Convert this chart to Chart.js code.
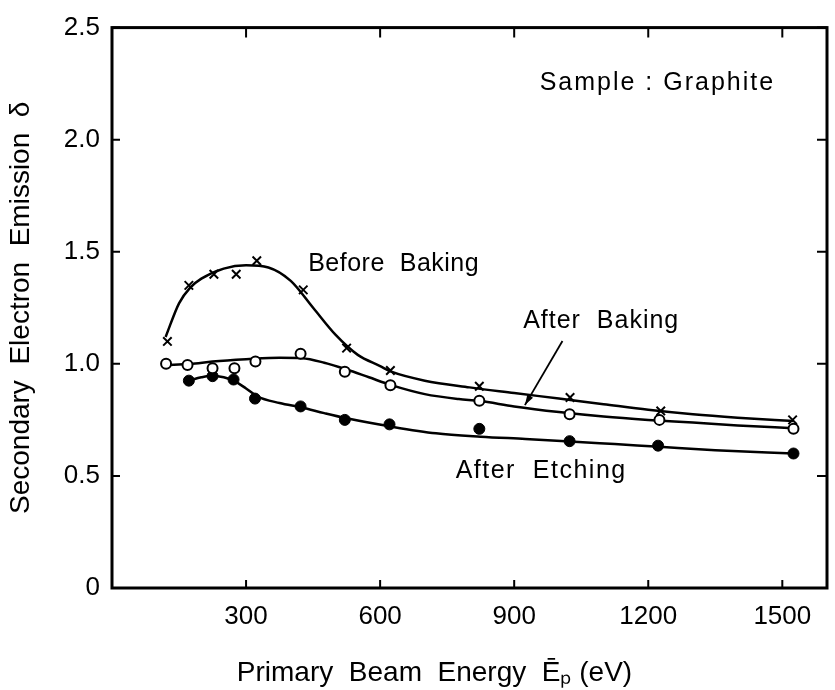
<!DOCTYPE html>
<html><head><meta charset="utf-8">
<script src="https://cdn.jsdelivr.net/npm/chart.js@4.4.0/dist/chart.umd.min.js"></script>
<style>html,body{margin:0;padding:0;background:#fff}</style>
</head><body>
<canvas id="c" width="835" height="690"></canvas>
<script>
// ---- data ----
const xTickValues = [300, 600, 900, 1200, 1500];
const xTickLabels = ['300', '600', '900', '1200', '1500'];
const yTickValues = [0, 0.5, 1.0, 1.5, 2.0, 2.5];
const yTickLabels = ['0', '0.5', '1.0', '1.5', '2.0', '2.5'];

// measured points
const beforeE = [124, 172, 228, 278, 324, 428, 525, 623, 822, 1025, 1228, 1523];
const beforeD = [1.10, 1.35, 1.40, 1.40, 1.46, 1.33, 1.07, 0.97, 0.90, 0.85, 0.79, 0.75];
const bakedE  = [121, 169, 225, 274, 321, 422, 521, 623, 822, 1024, 1225, 1525];
const bakedD  = [1.00, 0.995, 0.98, 0.98, 1.01, 1.045, 0.965, 0.905, 0.835, 0.775, 0.75, 0.71];
const etchE   = [172, 225, 272, 320, 422, 521, 621, 822, 1024, 1222, 1525];
const etchD   = [0.925, 0.945, 0.93, 0.845, 0.81, 0.75, 0.73, 0.71, 0.655, 0.635, 0.60];

// hand-drawn fitted curves
const beforeFitE = [120, 150, 175, 200, 250, 300, 350, 400, 450, 500, 550, 600, 625, 700, 800, 900, 1000, 1100, 1200, 1300, 1400, 1525];
const beforeFitD = [1.12, 1.27, 1.34, 1.38, 1.425, 1.44, 1.43, 1.37, 1.25, 1.13, 1.04, 0.99, 0.965, 0.925, 0.895, 0.87, 0.845, 0.82, 0.795, 0.775, 0.76, 0.745];
const bakedFitE  = [120, 175, 225, 300, 375, 425, 475, 525, 575, 625, 700, 776, 822, 900, 1000, 1100, 1200, 1300, 1400, 1525];
const bakedFitD  = [0.995, 1.0, 1.01, 1.02, 1.027, 1.025, 1.005, 0.975, 0.94, 0.905, 0.865, 0.843, 0.835, 0.81, 0.785, 0.765, 0.75, 0.738, 0.725, 0.713];
const etchFitE   = [172, 200, 225, 250, 275, 300, 325, 375, 425, 475, 525, 625, 725, 825, 925, 1025, 1125, 1225, 1350, 1525];
const etchFitD   = [0.925, 0.94, 0.947, 0.94, 0.922, 0.89, 0.855, 0.825, 0.805, 0.78, 0.757, 0.72, 0.69, 0.675, 0.665, 0.654, 0.642, 0.63, 0.615, 0.60];

const pts = (xs, ys) => xs.map((x, i) => ({x: x, y: ys[i]}));

const FONT = '"Liberation Sans", Arial, sans-serif';
const INK = '#000';

const decor = {
  id: 'decor',
  afterDatasetsDraw(chart) {
    const {ctx, chartArea: a, scales: {x, y}} = chart;
    ctx.save();
    ctx.strokeStyle = INK; ctx.fillStyle = INK;
    // frame
    ctx.lineWidth = 3;
    ctx.strokeRect(a.left, a.top, a.right - a.left, a.bottom - a.top);
    // inward ticks
    ctx.lineWidth = 2;
    ctx.beginPath();
    xTickValues.forEach(v => {
      const px = x.getPixelForValue(v);
      ctx.moveTo(px, a.bottom); ctx.lineTo(px, a.bottom - 8);
      ctx.moveTo(px, a.top); ctx.lineTo(px, a.top + 10);
    });
    yTickValues.forEach(v => {
      const py = y.getPixelForValue(v);
      ctx.moveTo(a.left, py); ctx.lineTo(a.left + 8, py);
      ctx.moveTo(a.right, py); ctx.lineTo(a.right - 10, py);
    });
    ctx.stroke();
    // annotations
    ctx.font = '25px ' + FONT;
    ctx.textBaseline = 'middle';
    ctx.textAlign = 'left';
    const put = (t, ev, d, sp) => {
      if ('letterSpacing' in ctx) ctx.letterSpacing = sp + 'px';
      ctx.fillText(t, x.getPixelForValue(ev), y.getPixelForValue(d));
    };
    put('Sample : Graphite', 957, 2.253, 2);
    put('Before  Baking', 439, 1.446, 0.5);
    put('After  Baking', 920, 1.19, 1);
    put('After  Etching', 769, 0.52, 1.5);
    if ('letterSpacing' in ctx) ctx.letterSpacing = '0px';
    // arrow
    const x0 = x.getPixelForValue(1008), y0 = y.getPixelForValue(1.102);
    const x1 = x.getPixelForValue(924),  y1 = y.getPixelForValue(0.816);
    ctx.lineWidth = 1.8;
    ctx.beginPath(); ctx.moveTo(x0, y0); ctx.lineTo(x1, y1); ctx.stroke();
    const ang = Math.atan2(y1 - y0, x1 - x0);
    ctx.beginPath();
    ctx.moveTo(x1, y1);
    ctx.lineTo(x1 - 11 * Math.cos(ang - 0.3), y1 - 11 * Math.sin(ang - 0.3));
    ctx.lineTo(x1 - 11 * Math.cos(ang + 0.3), y1 - 11 * Math.sin(ang + 0.3));
    ctx.closePath(); ctx.fill();
    ctx.restore();
  }
};

const lineDs = (label, data) => ({
  type: 'line', label, data, borderColor: INK, borderWidth: 2.5,
  pointRadius: 0, fill: false, cubicInterpolationMode: 'monotone', order: 2
});

new Chart(document.getElementById('c'), {
  type: 'scatter',
  data: {
    datasets: [
      lineDs('Before Baking fit', pts(beforeFitE, beforeFitD)),
      lineDs('After Baking fit', pts(bakedFitE, bakedFitD)),
      lineDs('After Etching fit', pts(etchFitE, etchFitD)),
      { label: 'Before Baking', data: pts(beforeE, beforeD), pointStyle: 'crossRot',
        pointRadius: 6, borderColor: INK, borderWidth: 2, backgroundColor: INK, order: 1 },
      { label: 'After Baking', data: pts(bakedE, bakedD), pointStyle: 'circle',
        pointRadius: 5, borderColor: INK, borderWidth: 2, backgroundColor: '#fff', order: 1 },
      { label: 'After Etching', data: pts(etchE, etchD), pointStyle: 'circle',
        pointRadius: 5.5, borderColor: INK, borderWidth: 1, backgroundColor: INK, order: 1 }
    ]
  },
  options: {
    responsive: false, animation: false,
    layout: { padding: { top: 21, right: 3, left: 0, bottom: 0 } },
    plugins: { legend: { display: false }, tooltip: { enabled: false } },
    scales: {
      x: {
        type: 'linear', min: 0, max: 1600,
        afterBuildTicks: s => { s.ticks = xTickValues.map(v => ({value: v})); },
        afterFit: s => { s.height = 102; },
        grid: { display: false, drawTicks: false },
        border: { display: false },
        ticks: { color: INK, padding: 13, font: { family: FONT, size: 26 }, maxRotation: 0,
                 callback: (v) => xTickLabels[xTickValues.indexOf(v)] },
        title: { display: true,
                 text: 'Primary  Beam  Energy  Ēₚ (eV)\u00A0\u00A0\u00A0\u00A0\u00A0\u00A0\u00A0\u00A0\u00A0',
                 color: INK, font: { family: FONT, size: 28 }, padding: { top: 14, bottom: 0 } }
      },
      y: {
        type: 'linear', min: 0, max: 2.5,
        afterBuildTicks: s => { s.ticks = yTickValues.map(v => ({value: v})); },
        afterFit: s => { s.width = 112; },
        grid: { display: false, drawTicks: false },
        border: { display: false },
        ticks: { color: INK, padding: 12, font: { family: FONT, size: 26 },
                 callback: (v) => yTickLabels[yTickValues.indexOf(v)] },
        title: { display: true, text: 'Secondary  Electron  Emission  δ', color: INK,
                 font: { family: FONT, size: 28 }, padding: { top: 4, bottom: 0 } }
      }
    }
  },
  plugins: [decor]
});
</script>
</body></html>
